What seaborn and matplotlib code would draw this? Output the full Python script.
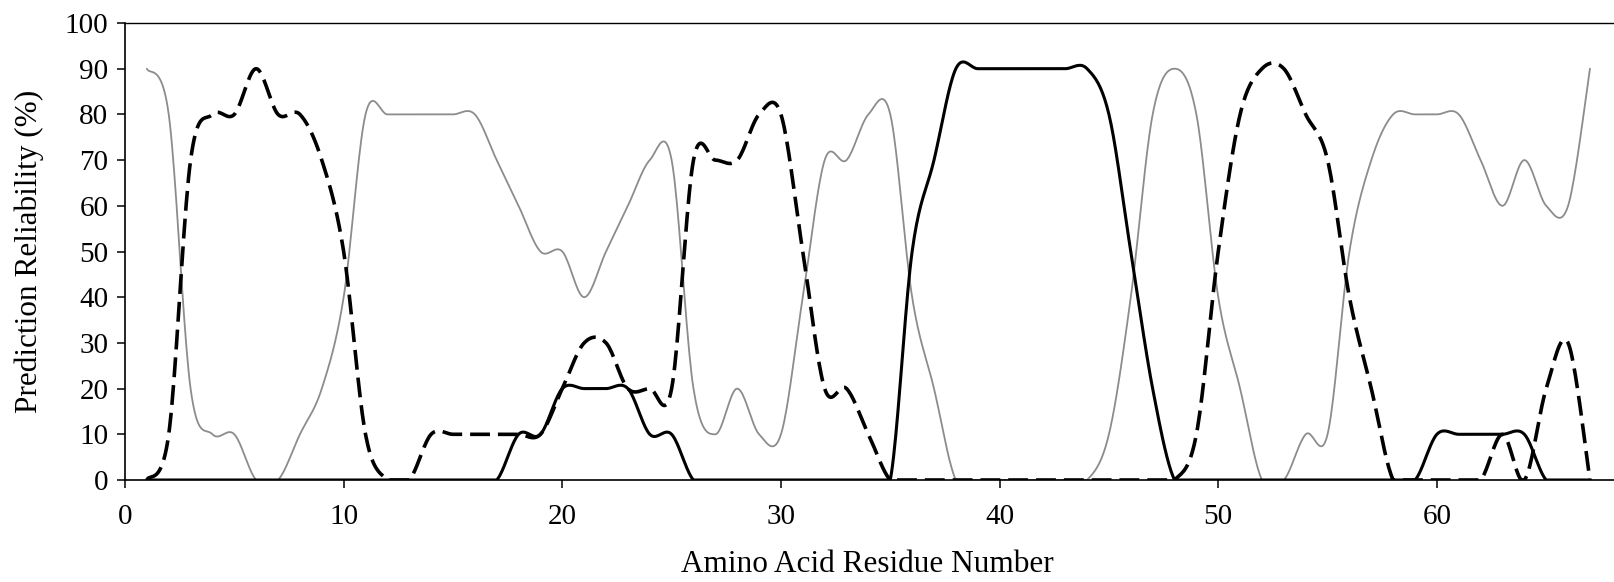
import numpy as np
import pandas as pd
import seaborn as sns
import matplotlib
matplotlib.use("Agg")
import matplotlib.pyplot as plt

# Secondary-structure prediction reliability per residue (%)
residues = list(range(1, 68))
coil = [90, 80, 20, 10, 10, 0, 0, 10, 20, 40,
        80, 80, 80, 80, 80, 80, 70, 60, 50, 50,
        40, 50, 60, 70, 70, 20, 10, 20, 10, 10,
        40, 70, 70, 80, 80, 40, 20, 0, 0, 0,
        0, 0, 0, 0, 10, 40, 80, 90, 80, 40,
        20, 0, 0, 10, 10, 50, 70, 80, 80, 80,
        80, 70, 60, 70, 60, 60, 90]
strand = [0, 10, 70, 80, 80, 90, 80, 80, 70, 50,
          10, 0, 0, 10, 10, 10, 10, 10, 10, 20,
          30, 30, 20, 20, 20, 70, 70, 70, 80, 80,
          50, 20, 20, 10, 0, 0, 0, 0, 0, 0,
          0, 0, 0, 0, 0, 0, 0, 0, 10, 50,
          80, 90, 90, 80, 70, 40, 20, 0, 0, 0,
          0, 0, 10, 0, 20, 30, 0]
helix = [0, 0, 0, 0, 0, 0, 0, 0, 0, 0,
         0, 0, 0, 0, 0, 0, 0, 10, 10, 20,
         20, 20, 20, 10, 10, 0, 0, 0, 0, 0,
         0, 0, 0, 0, 0, 50, 70, 90, 90, 90,
         90, 90, 90, 90, 80, 50, 20, 0, 0, 0,
         0, 0, 0, 0, 0, 0, 0, 0, 0, 10,
         10, 10, 10, 10, 0, 0, 0]

x_ticks = [0, 10, 20, 30, 40, 50, 60]
y_ticks = [0, 10, 20, 30, 40, 50, 60, 70, 80, 90, 100]


def smoothed(x, y, n=20):
    """Smoothed-line path through every data point (uniform Catmull-Rom)."""
    x = np.asarray(x, float)
    y = np.asarray(y, float)
    px = np.concatenate([[x[0]], x, [x[-1]]])
    py = np.concatenate([[y[0]], y, [y[-1]]])
    t = np.linspace(0, 1, n, endpoint=False)[:, None]
    out = []
    for p in (px, py):
        p0, p1, p2, p3 = p[:-3], p[1:-2], p[2:-1], p[3:]
        seg = 0.5 * (2 * p1 + (-p0 + p2) * t
                     + (2 * p0 - 5 * p1 + 4 * p2 - p3) * t ** 2
                     + (-p0 + 3 * p1 - 3 * p2 + p3) * t ** 3)
        out.append(np.concatenate([seg.T.ravel(), [p[-2]]]))
    return out


sns.set_theme(style="white")
plt.rcParams["font.family"] = ["Liberation Serif", "DejaVu Serif"]

W, H = 1614, 582
fig = plt.figure(figsize=(W / 100, H / 100), dpi=100)
ax_left, ax_right, ax_bottom, ax_top = 125, 1614, 480, 23
ax = fig.add_axes([ax_left / W, 1 - ax_bottom / H,
                   (ax_right - ax_left) / W, (ax_bottom - ax_top) / H])

series = [
    ("coil", coil, dict(color="#8c8c8c", linewidth=1.3)),
    ("strand", strand, dict(color="black", linewidth=2.6)),
    ("helix", helix, dict(color="black", linewidth=2.2)),
]
for name, values, style in series:
    sx, sy = smoothed(residues, values)
    df = pd.DataFrame({"residue": sx, "value": np.clip(sy, 0, None)})
    sns.lineplot(data=df, x="residue", y="value", ax=ax, sort=False,
                 estimator=None, **style)
    if name == "strand":
        ax.lines[-1].set_dashes((5.5, 2.2))
        ax.lines[-1].set_dash_capstyle("butt")

ax.set_xlim(0, 68.1)
ax.set_ylim(0, 100)
ax.set_xticks(x_ticks)
ax.set_yticks(y_ticks)

for side in ("left", "bottom", "top"):
    ax.spines[side].set_visible(True)
    ax.spines[side].set_color("black")
    ax.spines[side].set_linewidth(1.2)
ax.spines["top"].set_linewidth(1.0)
ax.spines["right"].set_visible(False)

ax.tick_params(axis="y", direction="out", length=6, width=1.1, pad=6,
               labelsize=21, colors="black", left=True)
ax.tick_params(axis="x", direction="out", length=6, width=1.1, pad=11,
               labelsize=21, colors="black", bottom=True)

ax.set_xlabel("Amino Acid Residue Number", fontsize=22.5, color="black")
ax.xaxis.set_label_coords((867 - ax_left) / (ax_right - ax_left),
                          (ax_bottom - 550) / (ax_bottom - ax_top))
ax.set_ylabel("Prediction Reliability (%)", fontsize=22.5, color="black")
ax.yaxis.set_label_coords((44 - ax_left) / (ax_right - ax_left), 0.5)

fig.savefig("out.png", dpi=100, facecolor="white")
